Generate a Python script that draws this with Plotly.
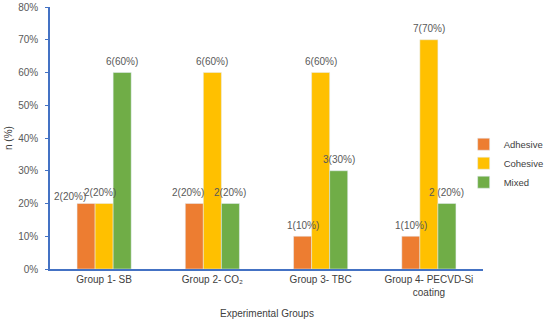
import plotly.graph_objects as go

groups = ["Group 1- SB", "Group 2- CO₂", "Group 3- TBC", "Group 4- PECVD-Si<br>coating"]
series = ["Adhesive", "Cohesive", "Mixed"]
adhesive = [20, 20, 10, 10]
cohesive = [20, 60, 60, 70]
mixed = [60, 20, 30, 20]
adhesive_lbl = ["2(20%)", "2(20%)", "1(10%)", "1(10%)"]
cohesive_lbl = ["2(20%)", "6(60%)", "6(60%)", "7(70%)"]
mixed_lbl = ["6(60%)", "2(20%)", "3(30%)", "2 (20%)"]
yticks = [0, 10, 20, 30, 40, 50, 60, 70, 80]

# styling
colors = {"Adhesive": "#ED7D31", "Cohesive": "#FFC000", "Mixed": "#70AD47"}
font_fam = "Liberation Sans, Arial, sans-serif"
gray = "#595959"
dark = "#404040"
axis_col = "#4472C4"
bar_offset_px = {"Adhesive": -18, "Cohesive": 0, "Mixed": 18}
# small label nudges (pixels) where the original labels sit off-centre
label_nudge = {("Adhesive", 0): (-16, -4), ("Cohesive", 0): (-4, 0), ("Adhesive", 1): (-6, 0)}

data = {"Adhesive": (adhesive, adhesive_lbl), "Cohesive": (cohesive, cohesive_lbl), "Mixed": (mixed, mixed_lbl)}

fig = go.Figure()
annotations = []
for name in series:
    vals, lbls = data[name]
    fig.add_trace(go.Bar(x=groups, y=vals, name=name, marker_color=colors[name]))
    for i, (g, v, t) in enumerate(zip(groups, vals, lbls)):
        dx, dy = label_nudge.get((name, i), (0, 0))
        annotations.append(dict(
            x=g, y=v, xref="x", yref="y", text=t, showarrow=False,
            xshift=bar_offset_px[name] + dx, yshift=11 + dy,
            font=dict(size=10, color=gray, family=font_fam),
        ))

annotations.append(dict(
    x=0.5, y=-0.168, xref="paper", yref="paper", text="Experimental Groups",
    showarrow=False, yanchor="middle", font=dict(size=10, color=dark, family=font_fam),
))
annotations.append(dict(
    x=-0.097, y=0.5, xref="paper", yref="paper", text="n (%)", textangle=-90,
    showarrow=False, xanchor="center", yanchor="middle",
    font=dict(size=10, color=dark, family=font_fam),
))

fig.update_layout(
    width=550, height=320,
    margin=dict(l=50, r=67, t=7, b=51, autoexpand=False),
    barmode="group", bargap=0.5, bargroupgap=0,
    plot_bgcolor="white", paper_bgcolor="white",
    font=dict(family=font_fam, size=10, color=gray),
    legend=dict(xref="container", yref="container", x=0.843, y=0.49,
                yanchor="middle", xanchor="left",
                font=dict(size=9.5, color=dark), itemwidth=30),
    annotations=annotations,
)
fig.update_yaxes(
    range=[0, 80], tickvals=yticks, ticktext=[f"{v}%" for v in yticks],
    showgrid=False, showline=True, linecolor=axis_col, linewidth=1.5,
    ticks="outside", ticklen=3, tickcolor=axis_col, ticklabelstandoff=5,
    tickfont=dict(size=10, color=gray), automargin=False,
)
fig.update_xaxes(
    showgrid=False, showline=True, linecolor=axis_col, linewidth=1.5,
    tickfont=dict(size=10, color=dark), automargin=False,
)
fig.write_html("out.html", config={"displayModeBar": False},
               post_script="document.body.style.margin='0';")
